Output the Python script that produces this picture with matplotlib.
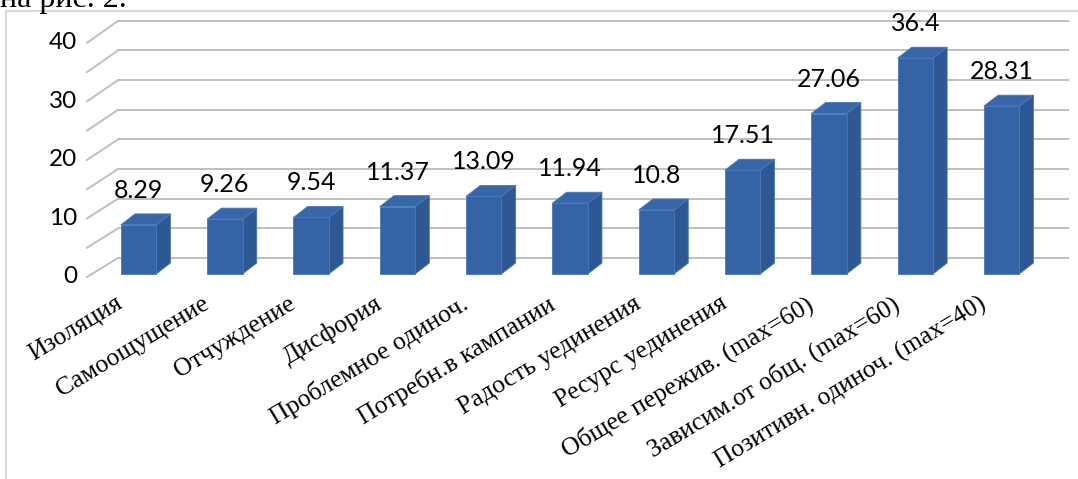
import numpy as np
import matplotlib.pyplot as plt
from matplotlib.patches import Polygon

# data
categories = ['Изоляция', 'Самоощущение', 'Отчуждение', 'Дисфория',
              'Проблемное одиноч.', 'Потребн.в кампании', 'Радость уединения',
              'Ресурс уединения', 'Общее пережив. (max=60)',
              'Зависим.от общ. (max=60)', 'Позитивн. одиноч. (max=40)']
values = [8.29, 9.26, 9.54, 11.37, 13.09, 11.94, 10.8, 17.51, 27.06, 36.4, 28.31]
value_labels = ['8.29', '9.26', '9.54', '11.37', '13.09', '11.94', '10.8',
                '17.51', '27.06', '36.4', '28.31']
yticks = [0, 10, 20, 30, 40]
grid_levels = np.arange(0, 45, 5)

# look
front_col = '#3464a6'
top_col = '#3867a9'
side_col = '#2d5893'
edge_col = '#4b78b6'
grid_col = '#bfbfbf'

# pseudo 3d geometry (in data units)
bar_w = 0.41
bar_dx, bar_dy = 0.165, 1.85      # bar depth
wall_dy = 2.7                     # back wall offset above bar base
wall_x0, wall_x1 = -0.2375, 10.77
side_x = -0.597                   # front end of left wall lines
front_dy = -0.5
front_scale = 0.987

fig = plt.figure(figsize=(10.78, 4.79), dpi=100)
ax = fig.add_axes([0, 0, 1, 1])
ax.set_xlim(-1.605, 10.886)
ax.set_ylim(-34.57, 46.21)
ax.axis('off')

# back wall + left wall grid lines
for g in grid_levels:
    yb = wall_dy + g
    yf = front_dy + g * front_scale
    ax.plot([wall_x0, wall_x1], [yb, yb], color=grid_col, lw=1.4, zorder=1)
    ax.plot([side_x, wall_x0], [yf, yb], color=grid_col, lw=1.4, zorder=1)

# y tick labels
for t in yticks:
    ax.text(-0.713, front_dy + t * front_scale, str(t), ha='right', va='center',
            fontsize=17.5, family='Lato', color='black')

# bars
x = np.arange(len(values))
for xi, v, lab, cat in zip(x, values, value_labels, categories):
    l, r = xi - bar_w / 2, xi + bar_w / 2
    front = [(l, 0), (r, 0), (r, v), (l, v)]
    top = [(l, v), (r, v), (r + bar_dx, v + bar_dy), (l + bar_dx, v + bar_dy)]
    side = [(r, 0), (r + bar_dx, bar_dy), (r + bar_dx, v + bar_dy), (r, v)]
    ax.add_patch(Polygon(side, closed=True, fc=side_col, ec=edge_col, lw=0.6, zorder=3))
    ax.add_patch(Polygon(top, closed=True, fc=top_col, ec=edge_col, lw=0.6, zorder=3))
    ax.add_patch(Polygon(front, closed=True, fc=front_col, ec=edge_col, lw=0.6, zorder=4))
    ax.text(xi, v + bar_dy + 2.7, lab, ha='center', va='baseline',
            fontsize=18, family='Lato', color='black', zorder=5)
    ax.text(xi - 0.27, -3.1, cat, rotation=31, rotation_mode='anchor',
            ha='right', va='top', fontsize=18.5, family='Liberation Serif',
            color='black')

# chart frame (left and top edges visible) and clipped caption text above
fig.add_artist(plt.Line2D([6 / 1078, 6 / 1078], [0, 1 - 11 / 479],
                          transform=fig.transFigure, color='#d9d9d9', lw=1.5))
fig.add_artist(plt.Line2D([6 / 1078, 1], [1 - 11 / 479, 1 - 11 / 479],
                          transform=fig.transFigure, color='#d9d9d9', lw=1.5))
fig.text(0.0, 1 - 7 / 479, 'на рис. 2.', ha='left', va='baseline',
         fontsize=23, family='Liberation Serif', color='black')

fig.savefig('out.png', dpi=100)
